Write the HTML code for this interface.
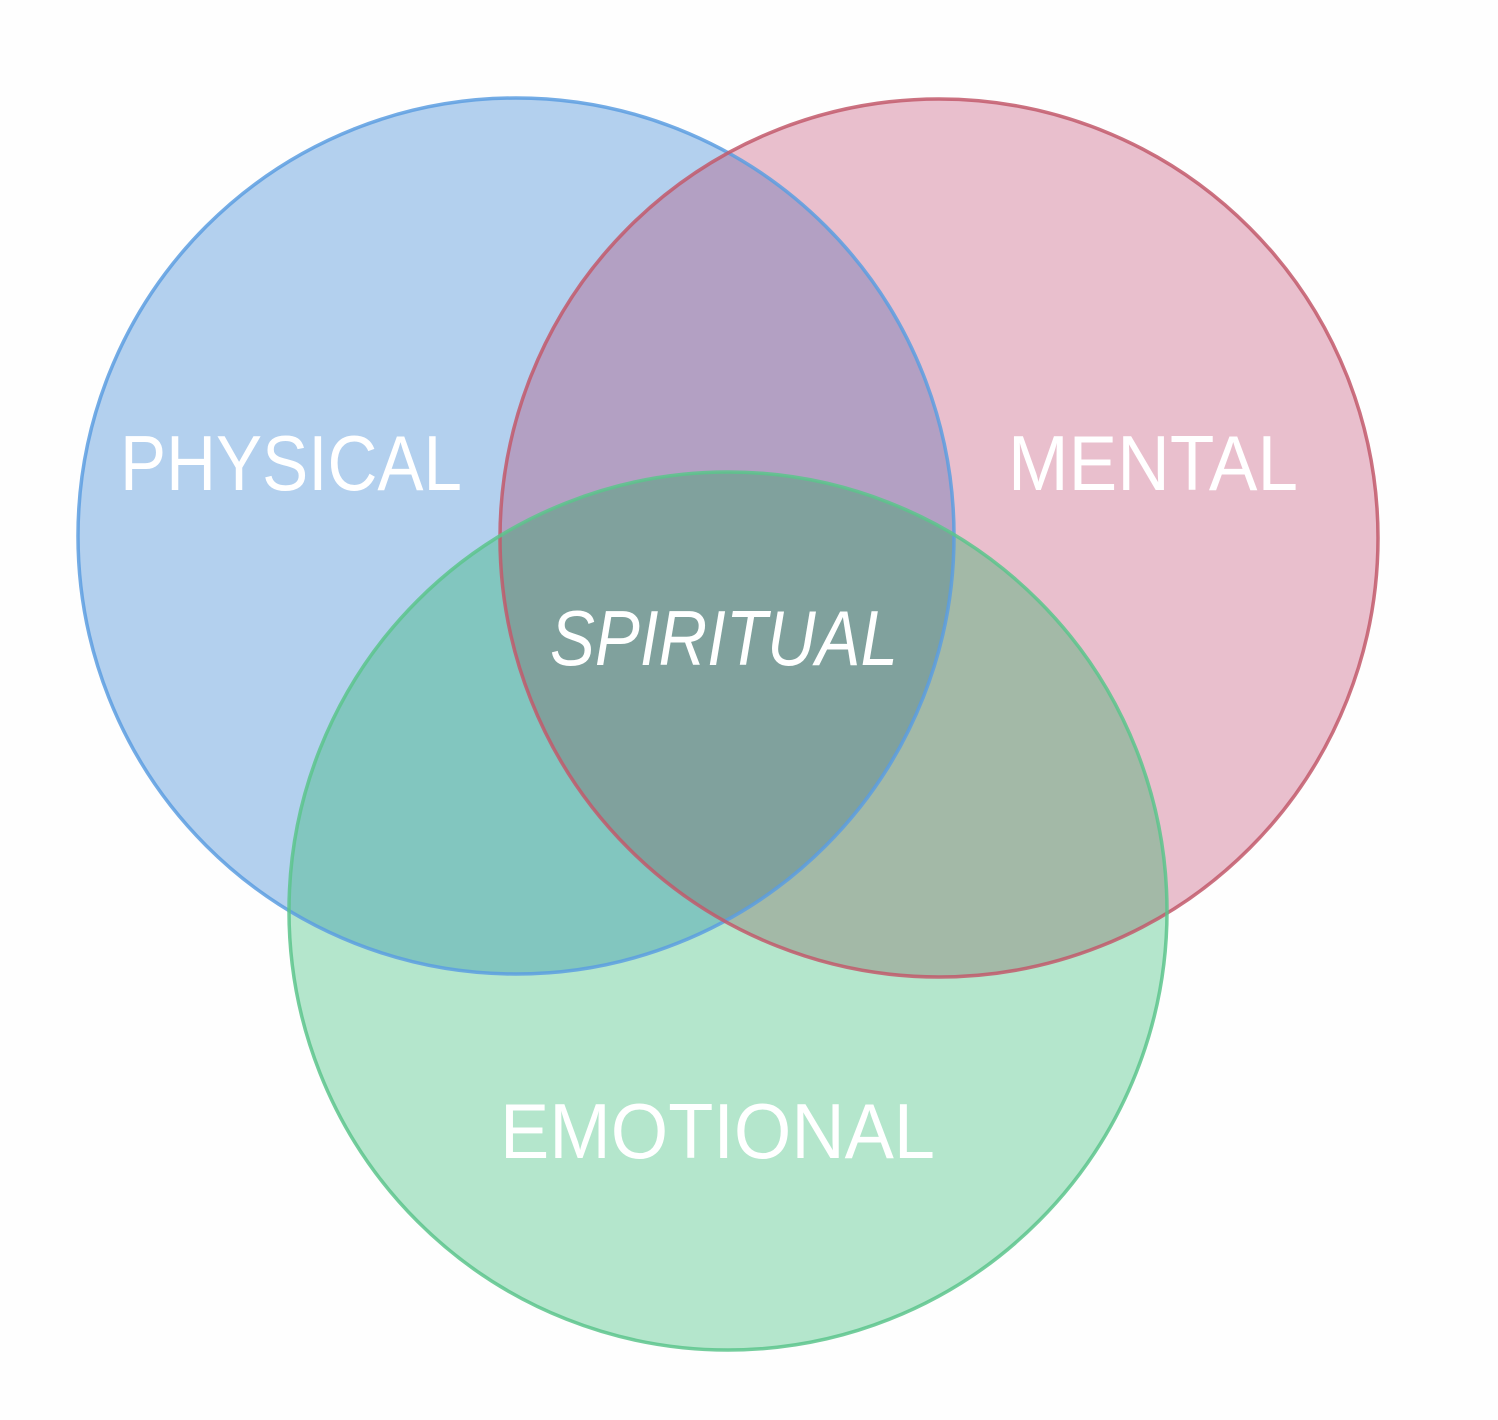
<!DOCTYPE html>
<html><head><style>html,body{margin:0;padding:0;background:#fff}svg{display:block}</style></head>
<body>
<svg width="1498" height="1420" viewBox="0 0 1498 1420" xmlns="http://www.w3.org/2000/svg">
<defs>
<clipPath id="cb"><circle cx="516" cy="536" r="438"/></clipPath>
<clipPath id="cr"><circle cx="939" cy="538" r="439"/></clipPath>
<clipPath id="cg"><circle cx="728" cy="911" r="439"/></clipPath>
</defs>
<rect width="1498" height="1420" fill="#fefefe"/>
<circle cx="516" cy="536" r="438" fill="#b3d0ee"/>
<circle cx="939" cy="538" r="439" fill="#e9bfcd"/>
<circle cx="728" cy="911" r="439" fill="#b4e6cc"/>
<g clip-path="url(#cb)"><circle cx="939" cy="538" r="439" fill="#b3a0c3"/><circle cx="728" cy="911" r="439" fill="#82c6bf"/></g>
<g clip-path="url(#cr)"><circle cx="728" cy="911" r="439" fill="#a3b9a7"/></g>
<g clip-path="url(#cb)"><g clip-path="url(#cr)"><circle cx="728" cy="911" r="439" fill="#80a19d"/></g></g>
<circle cx="516" cy="536" r="438" fill="none" stroke="#5c9de0" stroke-width="3.5" stroke-opacity="0.85"/>
<circle cx="939" cy="538" r="439" fill="none" stroke="#c2596b" stroke-width="3.5" stroke-opacity="0.85"/>
<circle cx="728" cy="911" r="439" fill="none" stroke="#5cc48c" stroke-width="3.5" stroke-opacity="0.85"/>
<g fill="#fff" font-family="Liberation Sans, sans-serif" font-size="78">
<text x="120" y="490" textLength="342" lengthAdjust="spacingAndGlyphs">PHYSICAL</text>
<text x="1008" y="490" textLength="290" lengthAdjust="spacingAndGlyphs">MENTAL</text>
<text x="550" y="665" font-style="italic" textLength="348" lengthAdjust="spacingAndGlyphs">SPIRITUAL</text>
<text x="500" y="1158" textLength="435" lengthAdjust="spacingAndGlyphs">EMOTIONAL</text>
</g>
</svg>
</body></html>
